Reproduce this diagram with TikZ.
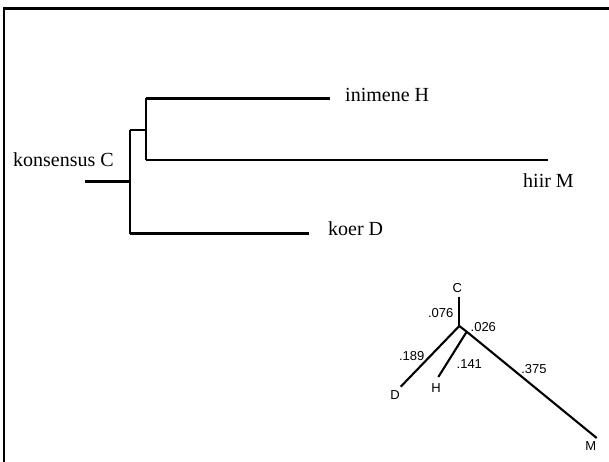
\documentclass[tikz,border=0pt]{standalone}
\usepackage{fontspec}
\setmainfont{Liberation Serif}
\newfontfamily\hv{Liberation Sans}
\begin{document}
\begin{tikzpicture}[x=1pt,y=-1pt,
  branch/.style={line width=2.4pt,line cap=butt,line join=miter},
  ubranch/.style={line width=2.1pt,line cap=butt},
  leaf/.style={inner sep=0pt,anchor=base west,font=\fontsize{20}{22}\selectfont},
  ulabel/.style={inner sep=0pt,font=\hv\fontsize{13}{15}\selectfont},
  frameline/.style={line width=2.4pt}]
\useasboundingbox (0,0) rectangle (609,462);

% open frame: top and left edges only
\coordinate (fbl) at (4,462);
\coordinate (ftl) at (4,8.7);
\coordinate (ftr) at (609,8.7);
\draw[frameline] (fbl) -- (ftl) -- (ftr);

% rooted tree
\coordinate (root) at (85,181.5);
\coordinate (n0) at (130,181.5);
\coordinate (n0top) at (130,130);
\coordinate (n0bot) at (130,233.5);
\coordinate (n1) at (146,130);
\coordinate (n1top) at (146,98.5);
\coordinate (n1bot) at (146,160);
\coordinate (tipH) at (330,98.5);
\coordinate (tipM) at (548,160);
\coordinate (tipD) at (309,233.5);

\draw[branch] (root) -- (n0);
\draw[branch] (n0top) -- (n0bot);
\draw[branch] (n0top) -- (n1);
\draw[branch] (n1top) -- (n1bot);
\draw[branch] (n1top) -- (tipH);
\draw[branch] (n1bot) -- (tipM);
\draw[branch] (n0bot) -- (tipD);

\node[leaf] (lC) at (13,166.5) {konsensus C};
\node[leaf] (lH) at (345,102) {inimene H};
\node[leaf] (lM) at (523,188) {hiir M};
\node[leaf] (lD) at (328,235.5) {koer D};

% unrooted tree with branch lengths
\coordinate (uC) at (459.3,296.7);
\coordinate (u1) at (459.3,326);
\coordinate (u2) at (466.7,331.7);
\coordinate (uD) at (400.7,386.7);
\coordinate (uH) at (438.3,377);
\coordinate (uM) at (596.7,438);

\draw[ubranch] (uC) -- (u1);
\draw[ubranch] (u1) -- (uD);
\draw[ubranch] (u1) -- (u2);
\draw[ubranch] (u2) -- (uH);
\draw[ubranch] (u2) -- (uM);

\node[ulabel] (tC) at (457.3,288.3) {C};
\node[ulabel] (tD) at (395,395) {D};
\node[ulabel] (tH) at (436,388.3) {H};
\node[ulabel] (tM) at (590.7,445.7) {M};
\node[ulabel] (w076) at (440.7,313.3) {.076};
\node[ulabel] (w026) at (483.3,327.3) {.026};
\node[ulabel] (w189) at (411.7,356) {.189};
\node[ulabel] (w141) at (469.3,364.3) {.141};
\node[ulabel] (w375) at (534,369) {.375};
\end{tikzpicture}
\end{document}
